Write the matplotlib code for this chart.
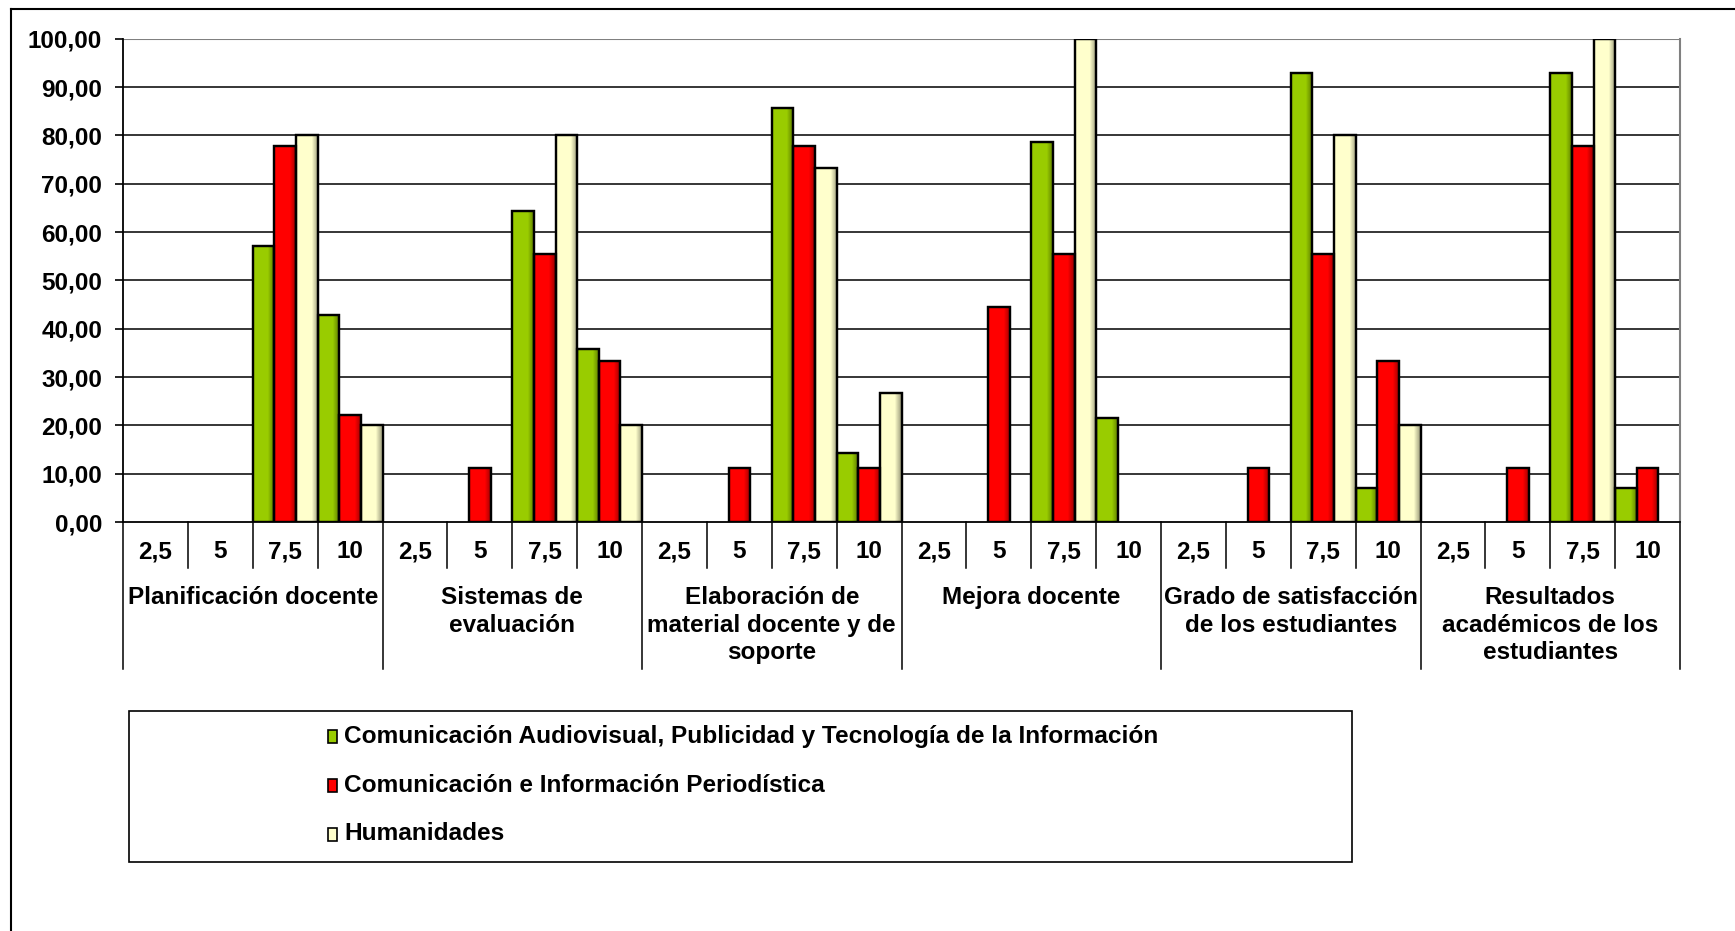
import numpy as np
import matplotlib
matplotlib.use('Agg')
import matplotlib.pyplot as plt
from matplotlib.patches import Rectangle
from matplotlib.lines import Line2D
from matplotlib.transforms import blended_transform_factory

groups = ["Planificación docente", "Sistemas de\nevaluación",
          "Elaboración de\nmaterial docente y de\nsoporte", "Mejora docente",
          "Grado de satisfacción\nde los estudiantes",
          "Resultados\nacadémicos de los\nestudiantes"]
scores = ["2,5", "5", "7,5", "10"]
series_names = ["Comunicación Audiovisual, Publicidad y Tecnología de la Información",
                "Comunicación e Información Periodística",
                "Humanidades"]
audiovisual = [0, 0, 57.14, 42.86, 0, 0, 64.29, 35.71, 0, 0, 85.71, 14.29,
               0, 0, 78.57, 21.43, 0, 0, 92.86, 7.14, 0, 0, 92.86, 7.14]
periodistica = [0, 0, 77.78, 22.22, 0, 11.11, 55.56, 33.33, 0, 11.11, 77.78, 11.11,
                0, 44.44, 55.56, 0, 0, 11.11, 55.56, 33.33, 0, 11.11, 77.78, 11.11]
humanidades = [0, 0, 80, 20, 0, 0, 80, 20, 0, 0, 73.33, 26.67,
               0, 0, 100, 0, 0, 0, 80, 20, 0, 0, 100, 0]
colors = ["#99CC00", "#FF0000", "#FFFFCC"]
yticks = list(range(0, 101, 10))

plt.rcParams['font.family'] = ['Liberation Sans', 'DejaVu Sans']
plt.rcParams['font.weight'] = 'bold'

FS = 17.5

fig = plt.figure(figsize=(17.35, 9.31), dpi=100)
ax = fig.add_axes([0.0709, 0.4393, 0.8974, 0.5191])

n_cat = len(groups) * len(scores)
x = np.arange(n_cat)
width = 1 / 3
all_series = [audiovisual, periodistica, humanidades]
for i, (vals, col) in enumerate(zip(all_series, colors)):
    v = np.array(vals, dtype=float)
    v[v == 0] = np.nan
    bars = ax.bar(x + (i - 1) * width, v, width=width, color=col,
                  edgecolor='black', linewidth=1.6, zorder=3)
    # shading to imitate the 3D-ish gradient
    for b in bars:
        h = b.get_height()
        if not np.isfinite(h) or h == 0:
            continue
        x0 = b.get_x()
        w = b.get_width()
        nstrip = 6
        for k in range(nstrip):
            sx = x0 + w * (0.72 + 0.28 * k / nstrip)
            ax.add_patch(Rectangle((sx, 0), w * 0.28 / nstrip, h, facecolor='black',
                                   alpha=0.04 + 0.06 * k, linewidth=0, zorder=3.5))
        ax.add_patch(Rectangle((x0, 0), w, h, facecolor='none', edgecolor='black',
                               linewidth=1.6, zorder=4))

ax.set_xlim(-0.5, n_cat - 0.5)
ax.set_ylim(0, 100)
ax.set_yticks(yticks)
ax.set_yticklabels([f"{t:.2f}".replace('.', ',') for t in yticks],
                   fontsize=FS, fontweight='bold')
ax.tick_params(axis='y', length=6, width=1.2, color='black', pad=9)
ax.set_xticks([])
for t in yticks[1:-1]:
    ax.axhline(t, color='black', linewidth=1.1, zorder=1)
ax.axhline(100, color='#808080', linewidth=1.5, zorder=1)
ax.spines['left'].set_color('black')
ax.spines['left'].set_linewidth(1.3)
ax.spines['bottom'].set_color('black')
ax.spines['bottom'].set_linewidth(1.3)
ax.spines['right'].set_color('#808080')
ax.spines['right'].set_linewidth(1.5)
ax.spines['top'].set_visible(False)

trans = blended_transform_factory(ax.transData, ax.transAxes)
# category separators and labels
for c in range(n_cat + 1):
    xb = c - 0.5
    bottom = -0.304 if c % 4 == 0 else -0.095
    ax.add_line(Line2D([xb, xb], [0, bottom], transform=trans, color='black',
                       linewidth=1.1, clip_on=False))
for c in range(n_cat):
    ax.text(c, -0.062, scores[c % 4], transform=trans, ha='center', va='center',
            fontsize=FS, fontweight='bold')
for g, name in enumerate(groups):
    ax.text(g * 4 + 1.5, -0.133, name, transform=trans, ha='center', va='top',
            fontsize=FS, fontweight='bold', linespacing=1.25)

# legend box drawn manually
W, H = 1735, 931
def fx(px):
    return px / W
def fy(py):
    return 1 - py / H

fig.patches.append(Rectangle((fx(129), fy(862)), fx(1352) - fx(129), fy(711) - fy(862),
                             transform=fig.transFigure, facecolor='white',
                             edgecolor='black', linewidth=1.2))
rows_y = [736, 785, 834]
for name, col, ry in zip(series_names, colors, rows_y):
    fig.patches.append(Rectangle((fx(328), fy(ry + 7)), fx(9), 13 / H,
                                 transform=fig.transFigure, facecolor=col,
                                 edgecolor='black', linewidth=1.2))
    fig.text(fx(344), fy(ry), name, ha='left', va='center', fontsize=17.6,
             fontweight='bold')

# outer frame (top and left)
fig.add_artist(Line2D([fx(11), 1], [fy(9), fy(9)], transform=fig.transFigure,
                      color='black', linewidth=1.5))
fig.add_artist(Line2D([fx(11), fx(11)], [fy(9), 0], transform=fig.transFigure,
                      color='black', linewidth=1.5))

fig.savefig('out.png', dpi=100)
